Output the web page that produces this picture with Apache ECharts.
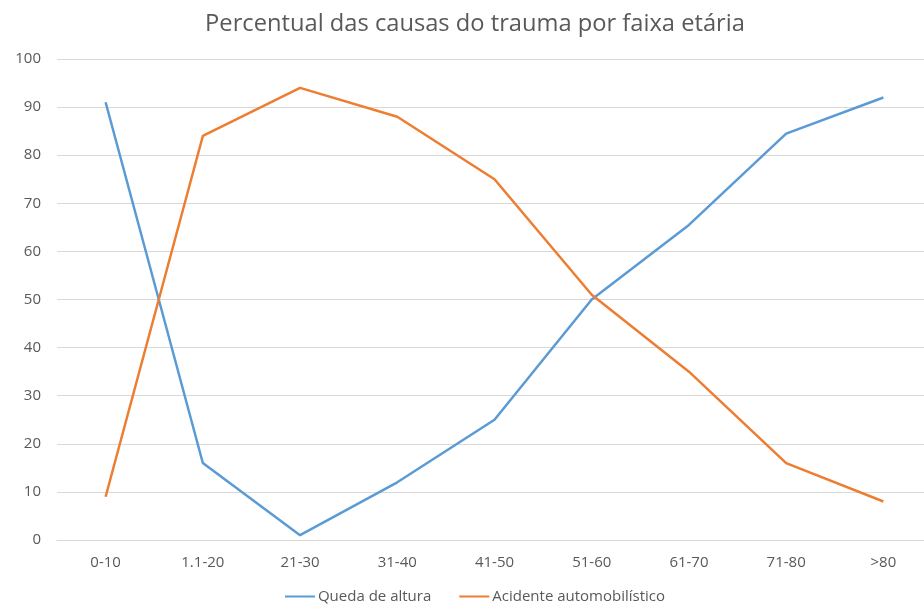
<!DOCTYPE html>
<html>
<head>
<meta charset="utf-8">
<script src="https://cdn.jsdelivr.net/npm/echarts@6/dist/echarts.min.js"></script>
<style>html,body{margin:0;padding:0;background:#fff;overflow:hidden;width:924px;height:605px;}#c{width:950px;height:605px;}</style>
</head>
<body>
<div id="c"></div>
<script>
var categories = ['0-10','1.1-20','21-30','31-40','41-50','51-60','61-70','71-80','>80'];
var queda = [91, 16, 1, 12, 25, 50, 65.5, 84.5, 92];
var acidente = [9, 84, 94, 88, 75, 51, 35, 16, 8];
var yTicks = {min: 0, max: 100, interval: 10};

var chart = echarts.init(document.getElementById('c'), null, {renderer: 'canvas'});
var font = '"Open Sans", "Noto Sans", sans-serif';
chart.setOption({
  animation: false,
  backgroundColor: '#fff',
  title: {
    text: 'Percentual das causas do trauma por faixa etária',
    left: 'center', top: 7,
    textStyle: {fontFamily: font, fontSize: 23.7, fontWeight: 'normal', color: '#595959'}
  },
  legend: {
    top: 584, left: 'center', itemGap: 28, itemWidth: 30, itemHeight: 2,
    icon: 'rect',
    textStyle: {fontFamily: font, fontSize: 15, color: '#595959', padding: [0, 0, 0, -2]},
    data: ['Queda de altura', 'Acidente automobilístico']
  },
  grid: {left: 57, right: 18, top: 59, height: 481, containLabel: false},
  xAxis: {
    type: 'category', data: categories, boundaryGap: true,
    axisLine: {show: true, lineStyle: {color: '#d9d9d9'}},
    axisTick: {show: false},
    axisLabel: {fontFamily: font, fontSize: 15, color: '#595959', margin: 15}
  },
  yAxis: {
    type: 'value', min: yTicks.min, max: yTicks.max, interval: yTicks.interval,
    axisLine: {show: false}, axisTick: {show: false},
    axisLabel: {fontFamily: font, fontSize: 15, color: '#595959', margin: 16},
    splitLine: {lineStyle: {color: '#d9d9d9', width: 1}}
  },
  series: [
    {name: 'Queda de altura', type: 'line', data: queda, symbol: 'none',
     lineStyle: {color: '#5B9BD5', width: 2.5}, itemStyle: {color: '#5B9BD5'}},
    {name: 'Acidente automobilístico', type: 'line', data: acidente, symbol: 'none',
     lineStyle: {color: '#ED7D31', width: 2.5}, itemStyle: {color: '#ED7D31'}}
  ]
});
</script>
</body>
</html>
